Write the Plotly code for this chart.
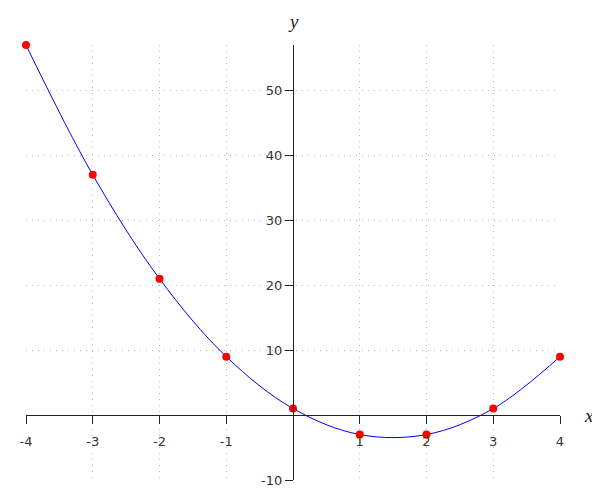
import plotly.graph_objects as go

x_vals = [-4, -3, -2, -1, 0, 1, 2, 3, 4]
y_vals = [57, 37, 21, 9, 1, -3, -3, 1, 9]
x_ticks = [-4, -3, -2, -1, 1, 2, 3, 4]
y_ticks = [-10, 10, 20, 30, 40, 50]
x_range = [-4, 4]
y_range = [-10, 57]

fig = go.Figure()
fig.add_trace(go.Scatter(x=x_vals, y=y_vals, mode="lines",
                         line=dict(color="#0000ff", width=1, shape="spline", smoothing=1),
                         hoverinfo="skip", cliponaxis=False))
fig.add_trace(go.Scatter(x=x_vals, y=y_vals, mode="markers",
                         marker=dict(color="#ff0000", size=8), cliponaxis=False))

xpos = (0 - x_range[0]) / (x_range[1] - x_range[0])
ypos = (0 - y_range[0]) / (y_range[1] - y_range[0])

tickfont = dict(family="DejaVu Sans", size=13, color="#333333")
grid = dict(showgrid=True, gridcolor="#bbbbbb", griddash="1px,5px", gridwidth=1)
fig.update_layout(
    width=600, height=500,
    margin=dict(l=18, r=48, t=37, b=28, autoexpand=False),
    paper_bgcolor="white", plot_bgcolor="white",
    showlegend=False,
    xaxis=dict(range=x_range, tickvals=x_ticks, ticktext=[str(v) for v in x_ticks],
               anchor="free", position=ypos, showline=True, linecolor="#222222", linewidth=1.3,
               ticks="outside", ticklen=8, tickcolor="#222222", tickwidth=1.3,
               ticklabelstandoff=6,
               zeroline=False, tickfont=tickfont, automargin=False, **grid),
    yaxis=dict(range=y_range, tickvals=y_ticks, ticktext=[str(v) for v in y_ticks],
               anchor="free", position=xpos, showline=True, linecolor="#222222", linewidth=1.3,
               ticks="outside", ticklen=8, tickcolor="#222222", tickwidth=1.3,
               zeroline=False, tickfont=tickfont, automargin=False, **grid),
    annotations=[
        dict(text="<i>x</i>", xref="paper", yref="y", x=1.0, y=0, xshift=36,
             showarrow=False, font=dict(family="Liberation Serif", size=19, color="#222222")),
        dict(text="<i>y</i>", xref="x", yref="paper", x=0, y=1.0, yshift=36,
             showarrow=False, font=dict(family="Liberation Serif", size=19, color="#222222")),
    ],
)

fig.write_html("out.html")
